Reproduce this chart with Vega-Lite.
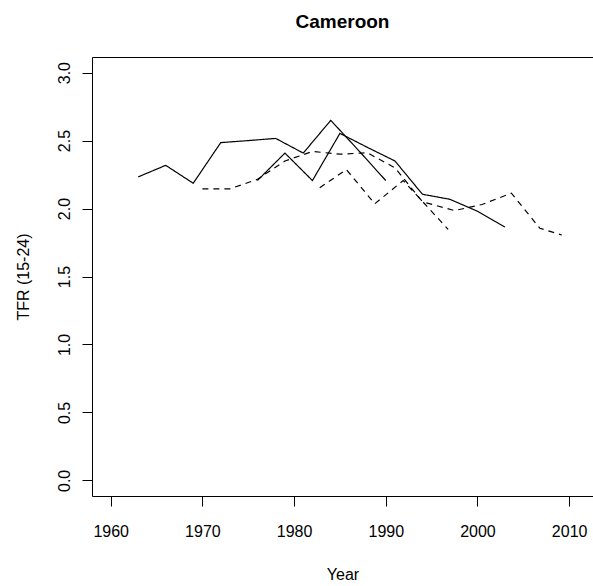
{
  "$schema": "https://vega.github.io/schema/vega-lite/v6.json",
  "autosize": {"type": "none"},
  "width": 501,
  "height": 439,
  "padding": {"left": 92, "top": 57, "right": 0, "bottom": 90},
  "background": "white",
  "config": {
    "view": {"stroke": null},
    "font": "Liberation Sans",
    "axis": {"grid": false, "domainColor": "black", "tickColor": "black", "labelColor": "black", "titleColor": "black", "labelFont": "Liberation Sans", "titleFont": "Liberation Sans", "labelFontSize": 16, "titleFontSize": 16, "titleFontWeight": "normal", "tickSize": 10, "domainWidth": 1, "tickWidth": 1}
  },
  "title": {"text": "Cameroon", "font": "Liberation Sans", "fontSize": 19, "fontWeight": "bold", "color": "black", "anchor": "middle", "baseline": "alphabetic", "offset": 10},
  "data": {"values": [
    {"series": "s1", "year": 1963, "tfr": 2.233},
    {"series": "s1", "year": 1966, "tfr": 2.318},
    {"series": "s1", "year": 1969, "tfr": 2.186},
    {"series": "s1", "year": 1972, "tfr": 2.485},
    {"series": "s1", "year": 1975, "tfr": 2.5},
    {"series": "s1", "year": 1978, "tfr": 2.516},
    {"series": "s1", "year": 1981, "tfr": 2.408},
    {"series": "s1", "year": 1984, "tfr": 2.649},
    {"series": "s1", "year": 1987, "tfr": 2.43},
    {"series": "s1", "year": 1990, "tfr": 2.206},
    {"series": "s2", "year": 1976, "tfr": 2.206},
    {"series": "s2", "year": 1979, "tfr": 2.408},
    {"series": "s2", "year": 1982, "tfr": 2.206},
    {"series": "s2", "year": 1985, "tfr": 2.553},
    {"series": "s2", "year": 1988, "tfr": 2.45},
    {"series": "s2", "year": 1991, "tfr": 2.35},
    {"series": "s2", "year": 1994, "tfr": 2.105},
    {"series": "s2", "year": 1997, "tfr": 2.068},
    {"series": "s2", "year": 2000, "tfr": 1.98},
    {"series": "s2", "year": 2003, "tfr": 1.864},
    {"series": "d1", "year": 1970, "tfr": 2.145},
    {"series": "d1", "year": 1973, "tfr": 2.145},
    {"series": "d1", "year": 1976, "tfr": 2.215},
    {"series": "d1", "year": 1979, "tfr": 2.35},
    {"series": "d1", "year": 1982, "tfr": 2.42},
    {"series": "d1", "year": 1985, "tfr": 2.4},
    {"series": "d1", "year": 1988, "tfr": 2.41},
    {"series": "d1", "year": 1991, "tfr": 2.3},
    {"series": "d1", "year": 1994, "tfr": 2.05},
    {"series": "d1", "year": 1997.5, "tfr": 1.985},
    {"series": "d1", "year": 2000.5, "tfr": 2.03},
    {"series": "d1", "year": 2003.7, "tfr": 2.113},
    {"series": "d1", "year": 2006.8, "tfr": 1.855},
    {"series": "d1", "year": 2009.2, "tfr": 1.805},
    {"series": "d2", "year": 1982.8, "tfr": 2.153},
    {"series": "d2", "year": 1985.7, "tfr": 2.287},
    {"series": "d2", "year": 1988.8, "tfr": 2.035},
    {"series": "d2", "year": 1991.9, "tfr": 2.206},
    {"series": "d2", "year": 1996.8, "tfr": 1.847}
  ]},
  "layer": [
    {
      "mark": {"type": "line", "color": "black", "strokeWidth": 1.2, "clip": true},
      "encoding": {
        "x": {"field": "year", "type": "quantitative", "scale": {"domain": [1957.96, 2012.6], "nice": false, "zero": false},
          "axis": {"title": "Year", "titleColor": "black", "values": [1960, 1970, 1980, 1990, 2000, 2010], "format": "d", "labelBaseline": "alphabetic", "labelPadding": 30, "labelFlush": false, "titleBaseline": "alphabetic", "titleY": 83}},
        "y": {"field": "tfr", "type": "quantitative", "scale": {"domain": [-0.115, 3.115], "nice": false, "zero": false},
          "axis": {"title": "TFR (15-24)", "titleColor": "black", "titleFont": "Liberation Sans", "titleFontWeight": "normal", "values": [0, 0.5, 1, 1.5, 2, 2.5, 3], "format": ".1f", "labelAngle": 270, "labelAlign": "center", "labelBaseline": "alphabetic", "labelPadding": 13, "labelFlush": false, "titleAngle": 270, "titleBaseline": "alphabetic", "titleX": -64, "titleY": 219.5}},
        "detail": {"field": "series"},
        "strokeDash": {"field": "series", "type": "nominal", "scale": {"domain": ["s1", "s2", "d1", "d2"], "range": [[1, 0], [1, 0], [6, 5], [6, 5]]}, "legend": null}
      }
    },
    {
      "mark": {"type": "line", "opacity": 0},
      "encoding": {
        "x": {"field": "year", "type": "quantitative", "axis": {"orient": "top", "labels": false, "ticks": false, "title": null, "domain": true}},
        "y": {"field": "tfr", "type": "quantitative", "axis": {"title": "TFR (15-24)", "titleColor": "black"}}
      }
    }
  ],
  "resolve": {"axis": {"x": "independent"}}
}
